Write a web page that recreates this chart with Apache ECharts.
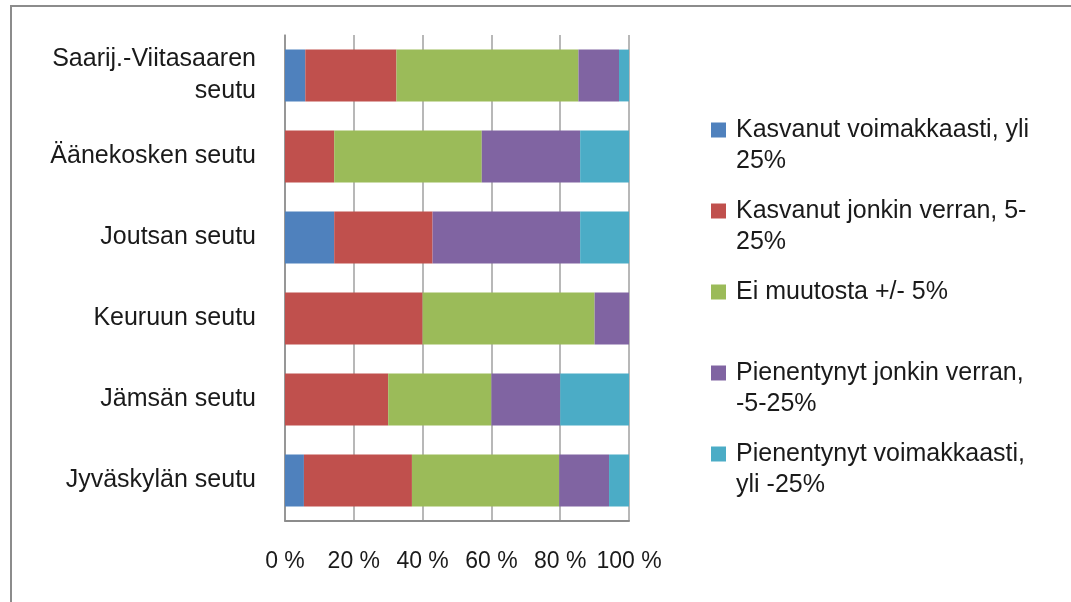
<!DOCTYPE html>
<html>
<head>
<meta charset="utf-8">
<style>
  html, body { margin: 0; padding: 0; background: #fff; }
  #chart { width: 1071px; height: 602px; }
</style>
<script src="https://cdn.jsdelivr.net/npm/echarts@6/dist/echarts.min.js"></script>
</head>
<body>
<div id="chart"></div>
<script>
// alueet alhaalta ylös (kategoria-akseli piirtää ensimmäisen alimmaksi)
var regions = ['Jyväskylän seutu', 'Jämsän seutu', 'Keuruun seutu', 'Joutsan seutu', 'Äänekosken seutu', 'Saarij.-Viitasaaren\nseutu'];

var seriesNames = [
  'Kasvanut voimakkaasti, yli\n25%',
  'Kasvanut jonkin verran, 5-\n25%',
  'Ei muutosta +/- 5%',
  'Pienentynyt jonkin verran,\n-5-25%',
  'Pienentynyt voimakkaasti,\nyli -25%'
];

// osuudet prosentteina
var strongGrowth = [5.5, 0, 0, 14.3, 0, 5.9];
var someGrowth = [31.4, 30, 40, 28.6, 14.3, 26.5];
var noChange = [42.8, 30, 50, 0, 42.9, 52.9];
var someDecline = [14.5, 20, 10, 42.9, 28.6, 11.8];
var strongDecline = [5.8, 20, 0, 14.3, 14.3, 2.9];

var xTicks = [0, 20, 40, 60, 80, 100];

var colors = ['#4F81BD', '#C0504D', '#9BBB59', '#8064A2', '#4BACC6'];
var values = [strongGrowth, someGrowth, noChange, someDecline, strongDecline];

var FONT = 'Liberation Sans';
var LH = 31;

var chart = echarts.init(document.getElementById('chart'));

var series = seriesNames.map(function (name, i) {
  return {
    name: name,
    type: 'bar',
    stack: 'total',
    barCategoryGap: '36%',
    itemStyle: { color: colors[i] },
    emphasis: { disabled: true },
    data: values[i]
  };
});

// selite: oma lohko jokaiselle, jotta välit vastaavat alkuperäistä;
// kaksirivisissä merkki on ensimmäisen rivin kohdalla
var legendCenters = [130, 211, 292, 373, 454];
var legends = seriesNames.map(function (name, i) {
  var twoLines = name.indexOf('\n') >= 0;
  return {
    orient: 'vertical',
    left: 706,
    top: twoLines ? legendCenters[i] - 5 - 1.5 * LH : legendCenters[i] - 5 - LH / 2,
    icon: 'rect',
    itemWidth: 15,
    itemHeight: 15,
    itemGap: 10,
    selectedMode: false,
    data: [name],
    formatter: function (n) {
      return n.indexOf('\n') >= 0 ? '\n' + n : n;
    },
    textStyle: {
      fontFamily: FONT,
      fontSize: 25,
      color: '#1a1a1a',
      lineHeight: LH,
      padding: [0, 0, 0, 5]
    }
  };
});

chart.setOption({
  animation: false,
  color: colors,
  legend: legends,
  grid: { left: 285, right: 442, top: 35, bottom: 81 },
  xAxis: {
    type: 'value',
    min: xTicks[0],
    max: xTicks[xTicks.length - 1],
    interval: 20,
    axisLine: { show: true, lineStyle: { color: '#8c8c8c', width: 2 } },
    axisTick: { show: false },
    splitLine: { show: true, lineStyle: { color: '#a0a0a0', width: 1.5 } },
    axisLabel: {
      formatter: '{value} %',
      fontFamily: FONT,
      fontSize: 23,
      color: '#1a1a1a',
      margin: 29
    }
  },
  yAxis: {
    type: 'category',
    data: regions,
    axisLine: { show: true, lineStyle: { color: '#8c8c8c', width: 1.5 } },
    axisTick: { show: false },
    axisLabel: {
      fontFamily: FONT,
      fontSize: 25,
      lineHeight: 32,
      color: '#1a1a1a',
      margin: 29,
      align: 'right'
    }
  },
  graphic: [{
    type: 'rect',
    shape: { x: 11, y: 6, width: 1100, height: 640 },
    style: { fill: 'none', stroke: '#8c8c8c', lineWidth: 2 },
    silent: true
  }],
  series: series
});
</script>
</body>
</html>
